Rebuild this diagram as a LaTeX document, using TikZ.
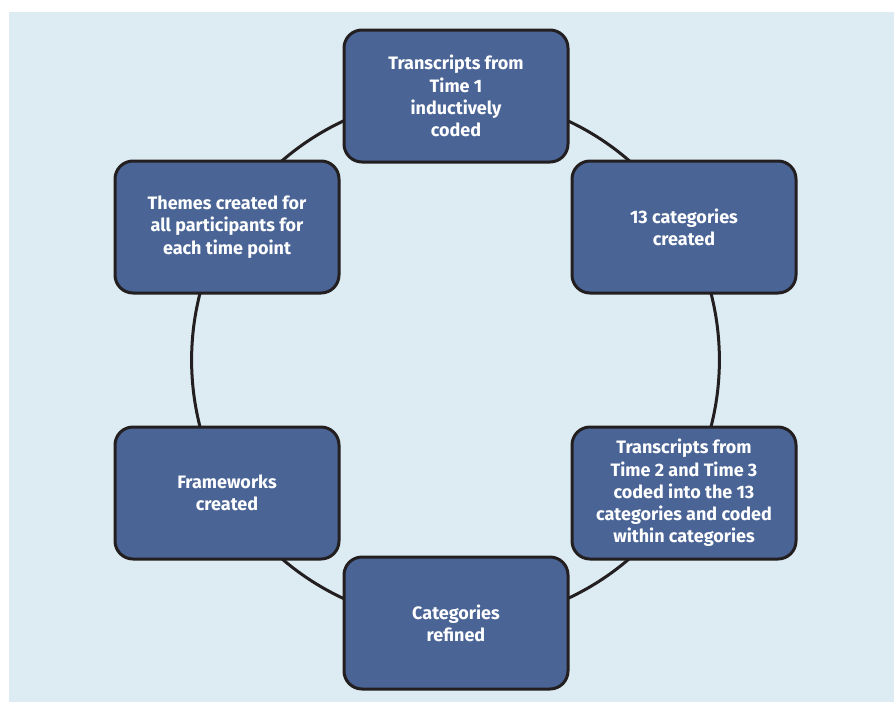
\documentclass[tikz,border=0pt]{standalone}
\usepackage{fontspec}
\setmainfont{Fira Sans}
\usetikzlibrary{backgrounds}
\definecolor{paleblue}{HTML}{DDEBF2}
\definecolor{boxblue}{HTML}{4A6496}
\definecolor{edgeblack}{HTML}{231F20}
\tikzset{
  stagebox/.style={draw=edgeblack,line width=3pt,fill=boxblue,rounded corners=18pt,
    minimum width=224pt,minimum height=132pt,align=center,text=white,
    font=\fontsize{18}{22.3}\selectfont\bfseries},
  ring/.style={draw=edgeblack,line width=3pt,bend left=30,looseness=0.91}
}
\begin{document}
\begin{tikzpicture}[x=1pt,y=-1pt]
    \useasboundingbox (0,0) rectangle (894,702);
    \node[stagebox] (time1) at (456,96) {Transcripts from\\Time 1\\inductively\\coded};
    \node[stagebox] (cats) at (684,227) {13 categories\\created};
    \node[stagebox] (time23) at (684,493) {Transcripts from\\Time 2 and Time 3\\coded into the 13\\categories and coded\\within categories};
    \node[stagebox] (refined) at (456,623) {Categories\\refined};
    \node[stagebox] (frames) at (227,493) {Frameworks\\created};
    \node[stagebox] (themes) at (227,227) {Themes created for\\all participants for\\each time point};
    \begin{scope}[on background layer]
      \fill[paleblue] (9,12) rectangle (894,702);
      \draw[ring] (time1.center) to (cats.center);
      \draw[ring] (cats.center) to (time23.center);
      \draw[ring] (time23.center) to (refined.center);
      \draw[ring] (refined.center) to (frames.center);
      \draw[ring] (frames.center) to (themes.center);
      \draw[ring] (themes.center) to (time1.center);
    \end{scope}
\end{tikzpicture}
\end{document}
